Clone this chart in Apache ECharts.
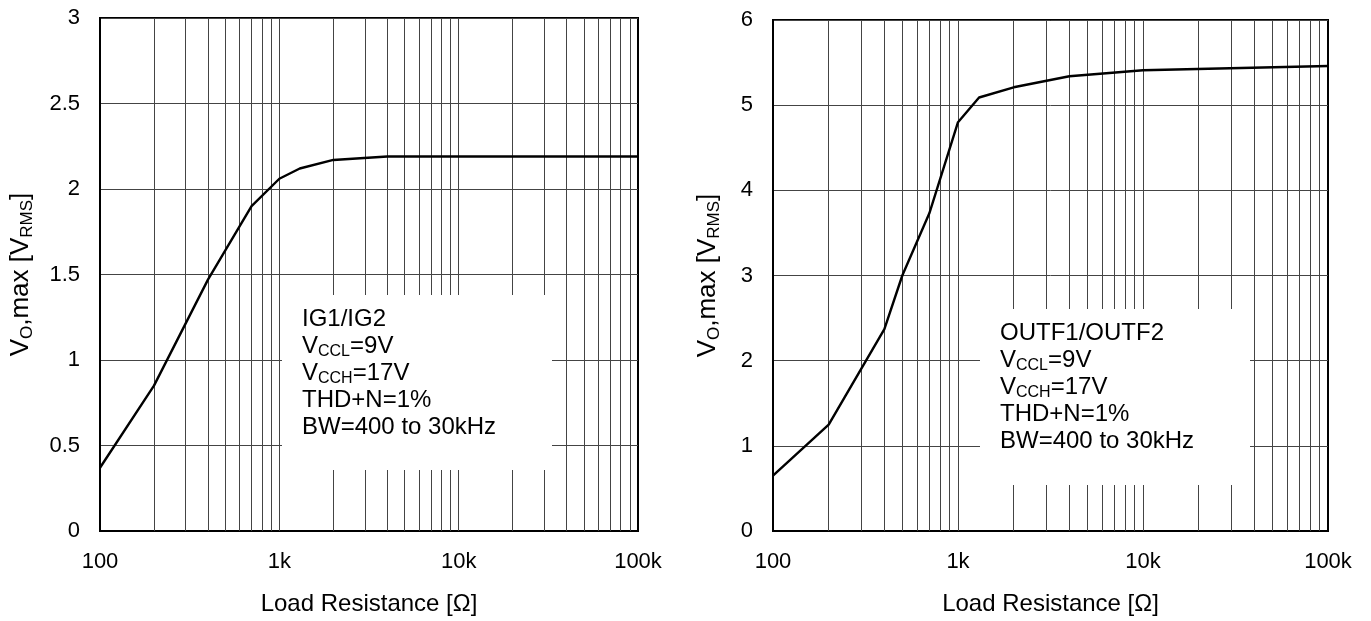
<!DOCTYPE html>
<html>
<head>
<meta charset="utf-8">
<script src="https://cdn.jsdelivr.net/npm/echarts@6/dist/echarts.min.js"></script>
<style>
  html, body { margin: 0; padding: 0; background: #fff; }
  #chart { width: 1371px; height: 621px; }
</style>
</head>
<body>
<div id="chart"></div>
<script>
// load resistance (ohm) and max output (Vrms)
const igR = [100, 200, 400, 700, 1000, 1300, 2000, 4000, 100000]
const igV = [0.37, 0.85, 1.47, 1.9, 2.06, 2.12, 2.17, 2.19, 2.19]
const outR = [100, 200, 400, 500, 700, 1000, 1300, 2000, 4000, 10000, 100000]
const outV = [0.65, 1.25, 2.37, 3.0, 3.73, 4.8, 5.09, 5.21, 5.34, 5.41, 5.46]

// log grid lines 1..9 per decade
const gridX = [200, 300, 400, 500, 600, 700, 800, 900, 1000,
  2000, 3000, 4000, 5000, 6000, 7000, 8000, 9000, 10000,
  20000, 30000, 40000, 50000, 60000, 70000, 80000, 90000]

const xTickNames = { 100: '100', 1000: '1k', 10000: '10k', 100000: '100k' }
const boxLeft = ['IG1/IG2', 'V{s|CCL}=9V', 'V{s|CCH}=17V', 'THD+N=1%', 'BW=400 to 30kHz']
const boxRight = ['OUTF1/OUTF2', 'V{s|CCL}=9V', 'V{s|CCH}=17V', 'THD+N=1%', 'BW=400 to 30kHz']

const FONT = "'Liberation Sans', Arial, sans-serif"
const sub = { fontSize: 16, fontFamily: FONT, color: '#000', verticalAlign: 'bottom', lineHeight: 16 }

const chart = echarts.init(document.getElementById('chart'))

const xAxisBase = (idx) => ({
  gridIndex: idx,
  type: 'log',
  logBase: 10,
  min: 100,
  max: 100000,
  name: 'Load Resistance [Ω]',
  nameLocation: 'middle',
  nameGap: 61,
  nameTextStyle: { fontSize: 24, fontFamily: FONT, color: '#000' },
  axisLine: { show: true, lineStyle: { color: '#000', width: 2 } },
  axisTick: { show: false },
  splitLine: { show: false },
  axisLabel: {
    fontSize: 22, fontFamily: FONT, color: '#000', margin: 20,
    formatter: v => xTickNames[Math.round(v)] || ''
  }
})

const yAxisBase = (idx, max, step, gap) => ({
  gridIndex: idx,
  type: 'value',
  min: 0,
  max: max,
  interval: step,
  name: 'V{s|O},max [V{s|RMS}]',
  nameLocation: 'middle',
  nameGap: gap,
  nameTextStyle: {
    fontSize: 26, fontFamily: FONT, color: '#000', lineHeight: 30,
    rich: { s: { fontSize: 17, fontFamily: FONT, color: '#000', verticalAlign: 'bottom', lineHeight: 17 } }
  },
  axisLine: { show: true, lineStyle: { color: '#000', width: 2 } },
  axisTick: { show: false },
  splitLine: { show: true, lineStyle: { color: '#444', width: 1 } },
  axisLabel: { fontSize: 22, fontFamily: FONT, color: '#000', margin: 20 }
})

const gridLines = (idx) => ({
  type: 'line',
  xAxisIndex: idx,
  yAxisIndex: idx,
  data: [],
  z: 1,
  silent: true,
  markLine: {
    silent: true,
    symbol: 'none',
    label: { show: false },
    lineStyle: { color: '#444', type: 'solid', width: 1 },
    data: gridX.map(v => ({ xAxis: v }))
  }
})

const curve = (idx, xs, ys) => ({
  type: 'line',
  xAxisIndex: idx,
  yAxisIndex: idx,
  data: xs.map((x, i) => [x, ys[i]]),
  showSymbol: false,
  symbol: 'none',
  z: 5,
  lineStyle: { color: '#000', width: 2.4 },
  itemStyle: { color: '#000' }
})

const infoBox = (x, y, w, h, lines) => ({
  type: 'group',
  z: 100,
  children: [
    { type: 'rect', x: x, y: y, z: 100, shape: { width: w, height: h }, style: { fill: '#fff' } },
    {
      type: 'text', x: x + 20, y: y + 11, z: 101,
      style: {
        text: lines.join('\n'),
        fontSize: 24, fontFamily: FONT, fill: '#000', lineHeight: 27,
        rich: { s: sub }
      }
    }
  ]
})

const option = {
  backgroundColor: '#fff',
  animation: false,
  grid: [
    { left: 100, top: 18, width: 538, height: 515, show: true, borderColor: '#000', borderWidth: 2 },
    { left: 773, top: 20, width: 555, height: 515, show: true, borderColor: '#000', borderWidth: 2 }
  ],
  xAxis: [xAxisBase(0), xAxisBase(1)],
  yAxis: [yAxisBase(0, 3, 0.5, 64), yAxisBase(1, 6, 1, 50)],
  series: [
    gridLines(0),
    gridLines(1),
    curve(0, igR, igV),
    curve(1, outR, outV)
  ],
  graphic: [
    infoBox(282, 295, 270, 175, boxLeft),
    infoBox(980, 309, 270, 176, boxRight)
  ]
}

chart.setOption(option)
</script>
</body>
</html>
